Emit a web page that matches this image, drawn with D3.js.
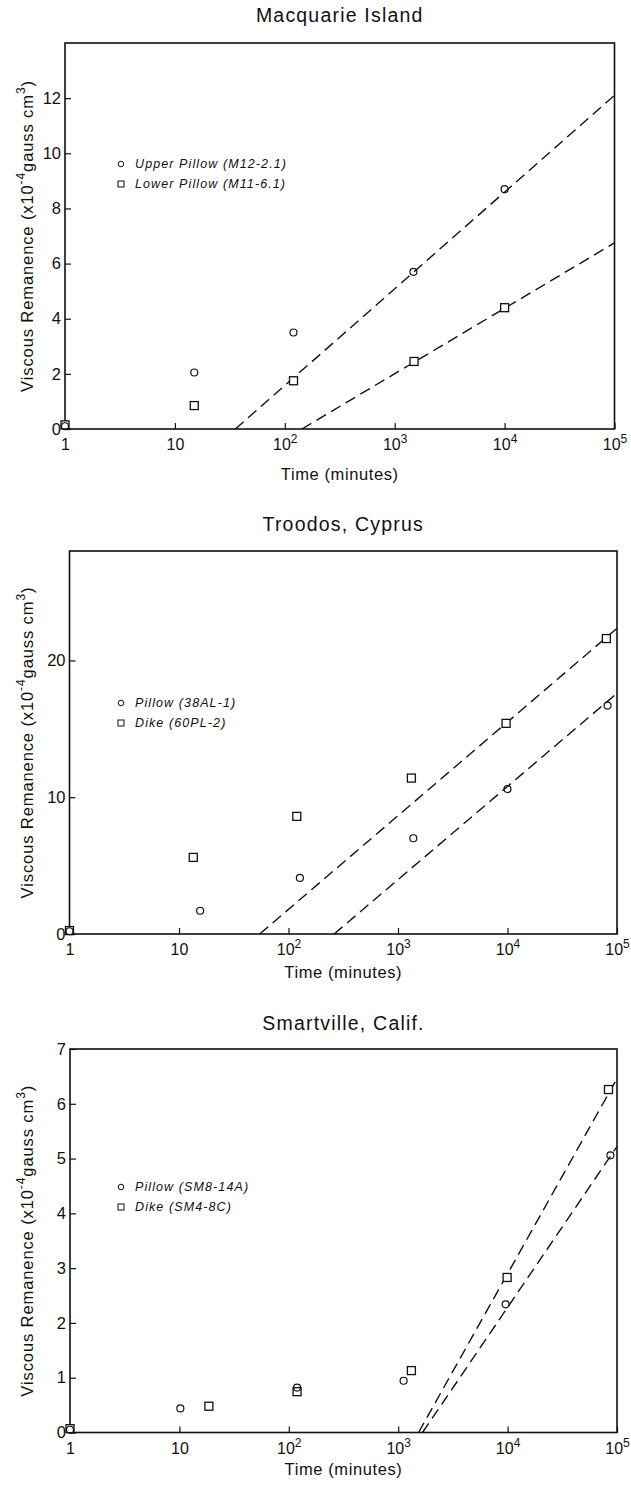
<!DOCTYPE html>
<html lang="en">
<head>
  <meta charset="UTF-8">
  <title>Viscous Remanence vs Time</title>
  <script src="https://d3js.org/d3.v7.min.js"></script>
  <style>
    body {
      margin: 0;
      background: #fff;
      font-family: "Liberation Sans", Arial, sans-serif;
    }
    svg text { fill: #111; }
  </style>
</head>
<body>
  <div id="chart"></div>

  <script>
    // ---- data ----
    const panelTitles = ["Macquarie Island", "Troodos, Cyprus", "Smartville, Calif."];
    const legendLabels = [
      ["Upper Pillow (M12-2.1)", "Lower Pillow (M11-6.1)"],
      ["Pillow (38AL-1)", "Dike (60PL-2)"],
      ["Pillow (SM8-14A)", "Dike (SM4-8C)"]
    ];
    const xTickValues = [1, 10, 100, 1000, 10000, 100000];
    const yTickValues = [[0, 2, 4, 6, 8, 10, 12], [0, 10, 20], [0, 1, 2, 3, 4, 5, 6, 7]];
    const yMax = [14, 28, 7];

    // Macquarie Island
    const macCircleTime = [1, 15, 120, 1480, 10000];
    const macCircleVrm  = [0.1, 2.05, 3.5, 5.7, 8.7];
    const macSquareTime = [1, 15, 120, 1500, 10000];
    const macSquareVrm  = [0.15, 0.85, 1.75, 2.45, 4.4];
    const macCircleFit  = [[35.5, 0], [100000, 12.1]];
    const macSquareFit  = [[143, 0], [100000, 6.75]];

    // Troodos, Cyprus
    const troCircleTime = [1, 15.6, 127, 1380, 10000, 82000];
    const troCircleVrm  = [0.2, 1.7, 4.1, 7.0, 10.6, 16.7];
    const troSquareTime = [1, 13.5, 119, 1325, 9700, 80000];
    const troSquareVrm  = [0.25, 5.6, 8.6, 11.4, 15.4, 21.6];
    const troCircleFit  = [[261, 0], [100000, 17.6]];
    const troSquareFit  = [[54.6, 0], [100000, 22.35]];

    // Smartville, Calif.
    const smaCircleTime = [1, 10.2, 119, 1120, 9600, 87000];
    const smaCircleVrm  = [0.05, 0.44, 0.82, 0.945, 2.34, 5.06];
    const smaSquareTime = [1, 18.6, 119, 1320, 9900, 83600];
    const smaSquareVrm  = [0.07, 0.48, 0.745, 1.13, 2.83, 6.26];
    const smaCircleFit  = [[1667, 0], [100000, 5.22]];
    const smaSquareFit  = [[1535, 0], [100000, 6.46]];

    // ---- layout of the three stacked panels ----
    const panels = [
      {left: 65, right: 614.5, top: 43, bottom: 429, titleY: 22, xTitleY: 480, legendY: 164,
       circles: [macCircleTime, macCircleVrm], squares: [macSquareTime, macSquareVrm],
       fits: [macCircleFit, macSquareFit]},
      {left: 69.5, right: 617, top: 551, bottom: 934, titleY: 531, xTitleY: 978, legendY: 703,
       circles: [troCircleTime, troCircleVrm], squares: [troSquareTime, troSquareVrm],
       fits: [troCircleFit, troSquareFit]},
      {left: 70, right: 617, top: 1049, bottom: 1432.5, titleY: 1030, xTitleY: 1475, legendY: 1187,
       circles: [smaCircleTime, smaCircleVrm], squares: [smaSquareTime, smaSquareVrm],
       fits: [smaCircleFit, smaSquareFit]}
    ];

    const svg = d3.select("#chart")
                  .append("svg")
                  .attr("width", 631)
                  .attr("height", 1487);

    panels.forEach((p, i) => {
      const x = d3.scaleLog().domain([1, 100000]).range([p.left, p.right]);
      const y = d3.scaleLinear().domain([0, yMax[i]]).range([p.bottom, p.top]);
      const g = svg.append("g");

      // title
      g.append("text")
       .attr("x", (p.left + p.right) / 2)
       .attr("y", p.titleY)
       .attr("text-anchor", "middle")
       .style("font-size", "19.5px")
       .style("letter-spacing", "1.2px")
       .text(panelTitles[i]);

      // x axis, ticks pointing inward
      const xAxis = d3.axisBottom(x)
                      .tickValues(xTickValues)
                      .tickSize(-6)
                      .tickPadding(8)
                      .tickFormat("");
      const gx = g.append("g")
                  .attr("transform", `translate(0,${p.bottom})`)
                  .call(xAxis);
      gx.select(".domain").remove();
      gx.selectAll("line").attr("stroke", "#111").attr("stroke-width", 1.2);

      gx.selectAll(".tick").each(function(d) {
        const e = Math.round(Math.log10(d));
        const t = d3.select(this).select("text")
                    .attr("y", 21)
                    .attr("dy", null)
                    .style("font-size", "16px")
                    .attr("fill", "#111");
        if (e === 0) t.text("1");
        else if (e === 1) t.text("10");
        else {
          t.append("tspan").text("10");
          t.append("tspan").attr("dy", -7).style("font-size", "12px").text(e);
        }
      });

      // y axis, ticks pointing inward
      const yAxis = d3.axisLeft(y)
                      .tickValues(yTickValues[i])
                      .tickSize(-6)
                      .tickPadding(4)
                      .tickFormat(d3.format("d"));
      const gy = g.append("g")
                  .attr("transform", `translate(${p.left},0)`)
                  .call(yAxis);
      gy.select(".domain").remove();
      gy.selectAll("line").attr("stroke", "#111").attr("stroke-width", 1.2);
      gy.selectAll("text")
        .style("font-size", "16.5px")
        .attr("fill", "#111");

      // frame
      g.append("rect")
       .attr("x", p.left)
       .attr("y", p.top)
       .attr("width", p.right - p.left)
       .attr("height", p.bottom - p.top)
       .attr("fill", "none")
       .attr("stroke", "#111")
       .attr("stroke-width", 1.6);

      // axis titles
      g.append("text")
       .attr("x", (p.left + p.right) / 2)
       .attr("y", p.xTitleY)
       .attr("text-anchor", "middle")
       .style("font-size", "16.5px")
       .style("letter-spacing", "0.6px")
       .text("Time (minutes)");

      const yt = g.append("text")
                  .attr("transform", `translate(33,${(p.top + p.bottom) / 2}) rotate(-90)`)
                  .attr("text-anchor", "middle")
                  .style("font-size", "16.5px")
                  .style("letter-spacing", "0.9px");
      yt.append("tspan").text("Viscous  Remanence (x10");
      yt.append("tspan").attr("dy", -8).style("font-size", "12px").text("-4");
      yt.append("tspan").attr("dy", 8).text("gauss  cm");
      yt.append("tspan").attr("dy", -8).style("font-size", "12px").text("3");
      yt.append("tspan").attr("dy", 8).text(")");

      // fitted dashed lines
      const line = d3.line().x(d => x(d[0])).y(d => y(d[1]));
      g.selectAll(".fit")
       .data(p.fits)
       .enter()
       .append("path")
       .attr("d", line)
       .attr("fill", "none")
       .attr("stroke", "#111")
       .attr("stroke-width", 1.4)
       .attr("stroke-dasharray", "11,6");

      // markers
      const circ = d3.zip(p.circles[0], p.circles[1]);
      const sq = d3.zip(p.squares[0], p.squares[1]);

      g.selectAll(".sq")
       .data(sq)
       .enter()
       .append("rect")
       .attr("x", d => x(d[0]) - 4)
       .attr("y", d => y(d[1]) - 4)
       .attr("width", 8)
       .attr("height", 8)
       .attr("fill", "#fff")
       .attr("stroke", "#111")
       .attr("stroke-width", 1.3);

      g.selectAll(".circ")
       .data(circ)
       .enter()
       .append("circle")
       .attr("cx", d => x(d[0]))
       .attr("cy", d => y(d[1]))
       .attr("r", 3.5)
       .attr("fill", "none")
       .attr("stroke", "#111")
       .attr("stroke-width", 1.2);

      // legend
      const lx = 121;
      g.append("circle")
       .attr("cx", lx).attr("cy", p.legendY).attr("r", 2.8)
       .attr("fill", "none").attr("stroke", "#111").attr("stroke-width", 1);
      g.append("rect")
       .attr("x", lx - 3).attr("y", p.legendY + 20 - 3).attr("width", 6).attr("height", 6)
       .attr("fill", "none").attr("stroke", "#111").attr("stroke-width", 1);
      legendLabels[i].forEach((lab, k) => {
        g.append("text")
         .attr("x", lx + 14)
         .attr("y", p.legendY + k * 20)
         .attr("dy", "0.35em")
         .style("font-size", "12.5px")
         .style("font-style", "italic")
         .style("letter-spacing", "1.1px")
         .text(lab);
      });
    });
  </script>
</body>
</html>
